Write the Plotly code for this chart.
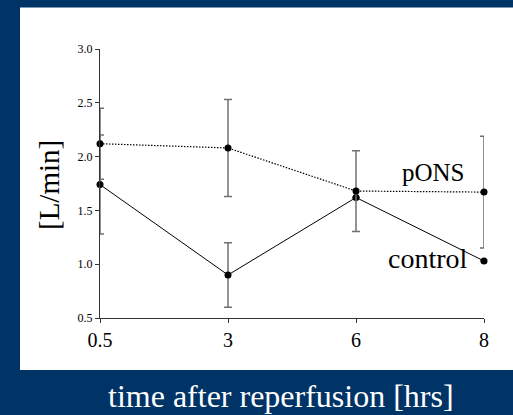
import plotly.graph_objects as go

categories = ["0.5", "3", "6", "8"]
pons_values = [2.12, 2.08, 1.68, 1.67]
pons_errors = [0.33, 0.45, 0.375, 0.52]
control_values = [1.74, 0.90, 1.62, 1.03]
control_errors = [0.46, 0.30, None, None]
y_ticks = [0.5, 1.0, 1.5, 2.0, 2.5, 3.0]
y_tick_labels = ["0.5", "1.0", "1.5", "2.0", "2.5", "3.0"]

SERIF = "Liberation Serif, Times New Roman, serif"
BG = "#003366"
ERR = "#707070"

fig = go.Figure()

fig.add_trace(go.Scatter(
    x=categories, y=control_values, mode="lines+markers",
    line=dict(color="black", width=1, dash="solid"),
    marker=dict(color="black", size=7),
    error_y=dict(type="data", array=control_errors, visible=True,
                 color=ERR, thickness=1.5, width=4),
    cliponaxis=False, showlegend=False, name="control",
))
fig.add_trace(go.Scatter(
    x=categories, y=pons_values, mode="lines+markers",
    line=dict(color="black", width=1.2, dash="1.5px,1.5px"),
    marker=dict(color="black", size=7),
    error_y=dict(type="data", array=pons_errors, visible=True,
                 color=ERR, thickness=1.5, width=4),
    cliponaxis=False, showlegend=False, name="pONS",
))

# white panel
L, R, T, B = 100, 29, 49, 97
W, H = 513, 415
pw, ph = W - L - R, H - T - B
def px(x):
    return (x - L) / pw
def py(y):
    return (H - B - y) / ph

fig.add_shape(type="rect", xref="paper", yref="paper",
              x0=px(20), x1=px(520), y0=py(370), y1=py(7.5),
              fillcolor="white", line=dict(width=0), layer="below")

fig.add_annotation(x=2.605, y=1.85, xref="x", yref="y", text="pONS",
                   showarrow=False, font=dict(family=SERIF, size=25, color="black"))
fig.add_annotation(x=2.56, y=1.05, xref="x", yref="y", text="control",
                   showarrow=False, font=dict(family=SERIF, size=28, color="black"))

fig.add_annotation(x=px(281), y=py(416), xref="paper", yref="paper",
                   text="time after reperfusion [hrs]", showarrow=False,
                   font=dict(family=SERIF, size=32, color="white"))
fig.add_annotation(x=px(31), y=py(185), xref="paper", yref="paper",
                   text="[L/min]", showarrow=False, textangle=-90,
                   font=dict(family=SERIF, size=29, color="black"))

fig.update_layout(
    width=W, height=H,
    margin=dict(l=L, r=R, t=T, b=B),
    paper_bgcolor=BG, plot_bgcolor="white",
    font=dict(family=SERIF, color="black"),
)
fig.update_xaxes(type="category", range=[0, 3], showgrid=False, zeroline=False,
                 showline=True, linecolor="#333", linewidth=1,
                 ticks="outside", ticklen=4, tickcolor="#333",
                 tickfont=dict(family=SERIF, size=20, color="black"))
fig.update_yaxes(range=[0.5, 3.0], tickvals=y_ticks, ticktext=y_tick_labels,
                 showgrid=False, zeroline=False,
                 showline=True, linecolor="#333", linewidth=1,
                 ticks="outside", ticklen=4, tickcolor="#333",
                 tickfont=dict(family=SERIF, size=12, color="black"))

fig.write_html("out.html", config={"displayModeBar": False},
               post_script="document.body.style.margin='0';document.body.style.overflow='hidden';")
